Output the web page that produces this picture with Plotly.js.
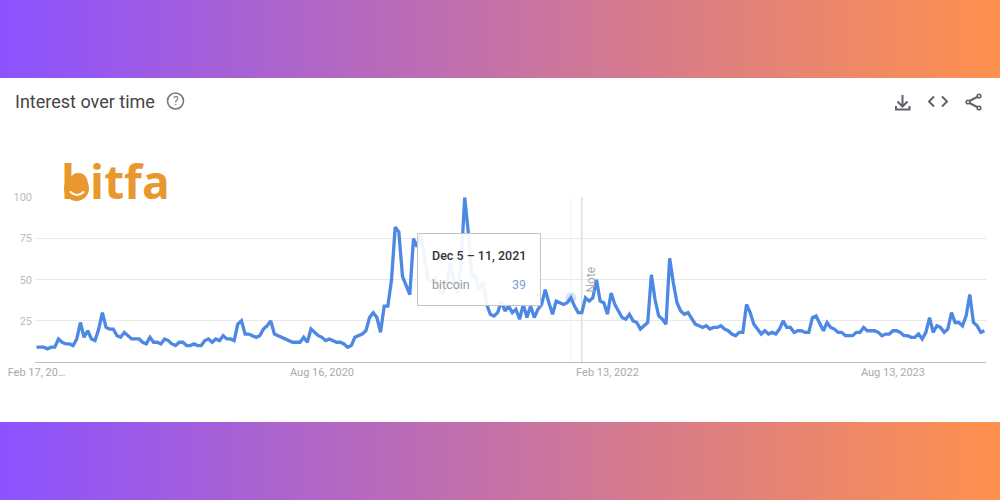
<!DOCTYPE html>
<html>
<head>
<meta charset="utf-8">
<script src="https://cdn.plot.ly/plotly-3.0.1.min.js"></script>
<style>
html,body{margin:0;padding:0;width:1000px;height:500px;overflow:hidden}
body{background:linear-gradient(90deg,#8c52ff 0%,#ff914d 100%);position:relative}
#chart{position:absolute;left:0;top:0;width:1000px;height:500px}
#icons{position:absolute;left:0;top:0;pointer-events:none}
</style>
</head>
<body>
<div id="chart"></div>
<svg id="icons" width="1000" height="500" viewBox="0 0 1000 500">
  <path d="M70.500 192 Q77 198 83.500 192" fill="none" stroke="#fff" stroke-width="2" stroke-linecap="round"/>
  <g fill="none" stroke="#5f6368" stroke-width="2">
    <path d="M902.500 95v11M897.500 101.500l5 5 5-5" />
    <path d="M896 106v3.500h13.500v-3.500" />
    <path d="M934 96.500l-5 5 5 5M942 96.500l5 5-5 5" />
    <path d="M979 96l-11.500 6 11.500 6" />
  </g>
  <g fill="#5f6368">
    <circle cx="979" cy="96" r="2.600"/><circle cx="968" cy="102" r="2.600"/><circle cx="979" cy="108" r="2.600"/>
  </g>
  <g fill="#fff"><circle cx="979" cy="96" r="1"/><circle cx="968" cy="102" r="1"/><circle cx="979" cy="108" r="1"/></g>
</svg>
<script>
var weekStart = '2019-02-17';
var weekMs = 604800000;
var bitcoin = [
  9,9,9,8,9,9,14,12,11,11,
  10,14,24,15,19,14,13,20,30,21,
  20,20,16,15,18,16,14,14,14,12,
  11,15,12,12,11,14,13,11,10,12,
  12,10,10,11,10,10,13,14,12,14,
  13,16,14,14,13,23,25,17,17,16,
  15,16,20,22,25,17,16,15,14,13,
  12,12,12,15,12,20,18,16,15,13,
  14,13,12,12,11,9,10,15,16,17,
  19,27,30,27,18,34,34,50,82,79,
  52,47,41,75,70,78,65,50,49,51,
  44,42,46,60,50,42,60,100,78,52,
  52,44,49,35,29,28,30,37,31,34,
  30,32,26,35,27,34,27,32,35,44,
  36,29,37,36,35,36,39,34,30,30,
  39,37,39,50,37,36,29,42,35,31,
  27,26,29,25,24,20,22,24,53,38,
  28,26,23,63,48,36,31,29,30,26,
  23,22,21,22,20,21,21,22,20,19,
  17,16,18,18,35,30,23,20,17,19,
  17,18,17,20,25,21,21,18,19,19,
  18,18,27,28,23,19,24,21,20,18,
  18,16,16,16,18,18,21,19,19,19,
  18,16,17,17,19,19,18,16,16,15,
  15,17,14,18,27,18,22,21,18,20,
  30,24,24,22,28,41,24,22,18,19
];
var xTickDates = ['2019-02-17','2020-08-16','2022-02-13','2023-08-13'];
var xTickLabels = ['Feb 17, 20\u2026','Aug 16, 2020','Feb 13, 2022','Aug 13, 2023'];
var yTicks = [25,50,75,100];
var hoverDate = ['2021-12-05'];
var hoverValue = [39];
var noteDate = '2021-12-26';

var L = 35, R = 986, T = 197, B = 362;
function px(x){return (x-L)/(R-L);}
function py(y){return (B-y)/(B-T);}
function note(x,y,text,xa,font,extra){
  var a = {xref:'paper',yref:'paper',x:px(x),y:py(y),text:text,showarrow:false,xanchor:xa,yanchor:'middle',
           borderpad:0,borderwidth:0,font:font};
  if(extra){for(var k in extra){a[k]=extra[k];}}
  return a;
}

var traces = [
  {type:'scatter',mode:'lines',name:'bitcoin',x0:weekStart,dx:weekMs,y:bitcoin,
   line:{color:'#4d88e4',width:3.3,shape:'linear'},hoverinfo:'skip'},
  {type:'scatter',mode:'markers',x:hoverDate,y:hoverValue,
   marker:{color:'rgba(77,136,228,0.22)',size:11},hoverinfo:'skip'}
];

var layout = {
  width:1000,height:500,showlegend:false,
  paper_bgcolor:'rgba(0,0,0,0)',plot_bgcolor:'rgba(0,0,0,0)',
  margin:{l:L,r:1000-R,t:T,b:500-B,pad:0},
  title:{text:'Interest over time',x:0.015,xanchor:'left',y:1-102/500,yanchor:'middle',
         font:{family:'Roboto',size:18,color:'#444'}},
  xaxis:{type:'date',range:['2019-02-14 03:00','2024-02-07'],tickmode:'array',
         tickvals:xTickDates,ticktext:xTickLabels,showgrid:false,zeroline:false,
         showline:true,linecolor:'#bdbdbd',linewidth:1,ticks:'',
         tickfont:{family:'Roboto',size:11,color:'#aaa'},fixedrange:true},
  yaxis:{range:[0,100.3],tickmode:'array',tickvals:yTicks,ticktext:yTicks.map(String),
         showgrid:true,gridcolor:'#e9e9e9',gridwidth:1,zeroline:false,showline:false,ticks:'',
         ticklabelstandoff:2,tickfont:{family:'Roboto',size:11,color:'#bbb'},fixedrange:true},
  shapes:[
    {type:'rect',layer:'below',xref:'paper',yref:'paper',x0:px(0),x1:px(1000),y0:py(422),y1:py(78),
     fillcolor:'#fff',line:{width:0}},
    {type:'circle',layer:'below',xref:'paper',yref:'paper',x0:px(64),x1:px(89),y0:py(201),y1:py(176),
     fillcolor:'#e8982e',line:{width:0}},
    {type:'circle',layer:'below',xref:'paper',yref:'paper',x0:px(167.5),x1:px(183.5),y0:py(109),y1:py(93),
     fillcolor:'rgba(0,0,0,0)',line:{color:'#777',width:1.6}},
    {type:'rect',layer:'between',xref:'x',yref:'paper',x0:'2021-12-02',x1:'2021-12-08',y0:0,y1:1,
     fillcolor:'rgba(66,133,244,0.035)',line:{width:0}},
    {type:'line',layer:'between',xref:'x',yref:'paper',x0:noteDate,x1:noteDate,y0:0,y1:1,
     line:{color:'#cfcfcf',width:1}},
    {type:'rect',layer:'above',xref:'paper',yref:'paper',x0:px(417.5),x1:px(540.5),y0:py(305.5),y1:py(233.5),
     fillcolor:'rgba(255,255,255,0.92)',line:{color:'#c4c4c4',width:1}}
  ],
  annotations:[
    note(175.5,101,'?','center',{family:'Roboto',size:12,color:'#777'}),
    note(115,181,'<b>bitfa</b>','center',{family:'Open Sans',size:46,color:'#e8982e'}),
    note(432,255,'Dec 5 \u2013 11, 2021','left',{family:'Roboto',size:12.5,color:'#333',weight:500}),
    note(432,284,'bitcoin','left',{family:'Roboto',size:12.5,color:'#9a9a9a'}),
    note(526,284,'39','right',{family:'Roboto',size:12.5,color:'#7b9fdc'}),
    note(590.5,280,'Note','center',{family:'Roboto',size:12,color:'#aaa'},{textangle:-90})
  ]
};
Plotly.newPlot('chart',traces,layout,{displayModeBar:false,staticPlot:true});
</script>
</body>
</html>
